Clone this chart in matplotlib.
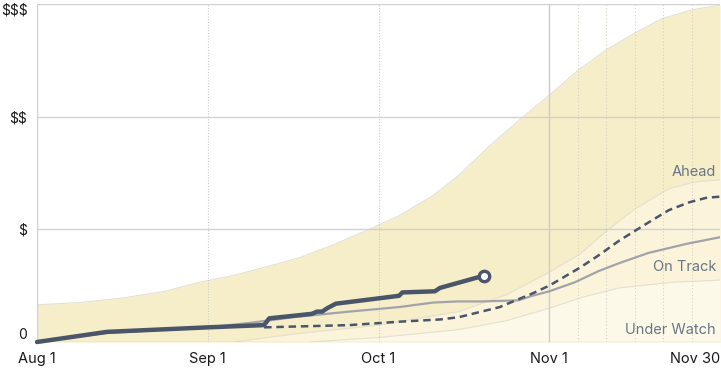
import matplotlib.pyplot as plt
from matplotlib.transforms import offset_copy

plt.rcParams['font.family'] = ['Inter', 'DejaVu Sans']
plt.rcParams['text.parse_math'] = False

# --- x in months since Aug 1 (Nov 30 drawn at the right edge)
tick_pos = [0, 1, 2, 3, 4]
tick_labels = ["Aug 1", "Sep 1", "Oct 1", "Nov 1", "Nov 30"]
y_ticks = [0, 1, 2, 3]
y_labels = ["0", "$", "$$", "$$$"]

# --- bands
upper_x = [0, 0.25, 0.5, 0.75, 0.95, 1.15, 1.35, 1.54, 1.73, 1.93, 2.12, 2.32, 2.47,
           2.65, 2.84, 3.0, 3.16, 3.33, 3.51, 3.66, 3.84, 4.0]
upper_y = [0.33, 0.35, 0.39, 0.45, 0.53, 0.59, 0.67, 0.75, 0.86, 0.99, 1.12, 1.30, 1.48,
           1.74, 1.99, 2.19, 2.40, 2.59, 2.75, 2.87, 2.95, 2.99]

ahead_x = [1.15, 1.5, 2.0, 2.47, 2.75, 3.0, 3.18, 3.33, 3.5, 3.7, 3.85, 4.0]
ahead_y = [0.0, 0.07, 0.15, 0.27, 0.42, 0.62, 0.78, 0.98, 1.18, 1.36, 1.42, 1.44]

watch_x = [1.6, 2.0, 2.47, 2.75, 3.0, 3.2, 3.41, 3.72, 4.0]
watch_y = [0.0, 0.04, 0.11, 0.19, 0.30, 0.40, 0.48, 0.53, 0.55]

# --- lines
actual_x = [0, 0.41, 1.0, 1.33, 1.36, 1.61, 1.64, 1.67, 1.70, 1.75, 2.12, 2.14, 2.33, 2.36, 2.62]
actual_y = [0, 0.09, 0.13, 0.15, 0.21, 0.25, 0.27, 0.27, 0.30, 0.34, 0.41, 0.44, 0.45, 0.48, 0.59]

track_x = [0, 0.41, 1.0, 1.25, 1.5, 1.83, 2.12, 2.32, 2.46, 2.61, 2.82, 2.90, 3.0, 3.15,
           3.29, 3.41, 3.58, 3.8, 4.0]
track_y = [0, 0.08, 0.13, 0.17, 0.22, 0.27, 0.31, 0.35, 0.36, 0.36, 0.37, 0.41, 0.45, 0.53,
           0.63, 0.70, 0.79, 0.87, 0.93]

proj_x = [1.33, 1.83, 2.12, 2.36, 2.47, 2.71, 2.82, 2.90, 3.0, 3.18, 3.29, 3.41, 3.58,
          3.70, 3.82, 3.92, 4.0]
proj_y = [0.13, 0.15, 0.18, 0.20, 0.22, 0.31, 0.38, 0.43, 0.50, 0.66, 0.77, 0.90, 1.06,
          1.17, 1.24, 1.28, 1.29]

dark = "#4b5569"
label_col = "#6b7588"

fig = plt.figure(figsize=(7.21, 3.69), dpi=100)
ax = fig.add_axes([37 / 721, 1 - 342 / 369, 683 / 721, 338 / 369])

# bands
ax.fill_between(upper_x, 0, upper_y, color="#f6eec8", lw=0, zorder=1)
ax.fill_between(ahead_x, 0, ahead_y, color="#fbf4da", lw=0, zorder=1)
ax.fill_between(watch_x, 0, watch_y, color="#fdf9e9", lw=0, zorder=1)
for bx, by in [(upper_x, upper_y), (ahead_x, ahead_y), (watch_x, watch_y)]:
    ax.plot(bx, by, color="#e4e0d2", lw=0.8, zorder=1.5)

# grid
for y in y_ticks:
    ax.axhline(y, color="#d2d2d2", lw=1, zorder=2)
ax.axvline(0, color="#d2d2d2", lw=1, zorder=2)
ax.axvline(1, color="#cccccc", lw=0.8, ls=(0, (1, 1.5)), zorder=2)
ax.axvline(2, color="#cccccc", lw=0.8, ls=(0, (1, 1.5)), zorder=2)
ax.axvline(3, color="#cccccc", lw=1, zorder=2)
for k in range(1, 6):
    ax.axvline(3 + k / 6, color="#d6d1c0", lw=0.8, ls=(0, (1, 2)), zorder=2)

# series
ax.plot(track_x, track_y, color="#a2a2aa", lw=1.6, zorder=3, solid_capstyle="round")
ax.plot(proj_x, proj_y, color=dark, lw=1.8, dashes=(3.0, 1.9), zorder=4)
ax.plot(actual_x, actual_y, color=dark, lw=3.2, zorder=5, clip_on=False,
        solid_joinstyle="round", solid_capstyle="round")
ax.plot(actual_x[-1:], actual_y[-1:], marker="o", ms=7.5, mfc="white",
        mec=dark, mew=2.4, zorder=6, ls="none")

# band labels
lbl_tr = offset_copy(ax.transData, fig=fig, x=-4, y=0, units="dots")
ax.text(4, 1.51, "Ahead", transform=lbl_tr, ha="right", va="center",
        fontsize=10.5, color=label_col, zorder=7)
ax.text(4, 0.665, "On Track", transform=lbl_tr, ha="right", va="center",
        fontsize=10.5, color=label_col, zorder=7)
ax.text(4, 0.105, "Under Watch", transform=lbl_tr, ha="right", va="center",
        fontsize=10.5, color=label_col, zorder=7)

ax.set_xlim(0, 4)
ax.set_ylim(0, 3)
ax.set_xticks(tick_pos)
ax.set_xticklabels(tick_labels)
ax.set_yticks(y_ticks)
ax.set_yticklabels(y_labels)
ax.tick_params(length=0, labelsize=10.5, colors="#1a1a1a", pad=7)
ax.tick_params(axis="y", pad=7, labelsize=10)
ax.get_xticklabels()[-1].set_ha("right")
ax.get_yticklabels()[0].set_va("bottom")
ax.get_yticklabels()[-1].set_va("top")
for s in ax.spines.values():
    s.set_visible(False)

fig.savefig("out.png", dpi=100)
